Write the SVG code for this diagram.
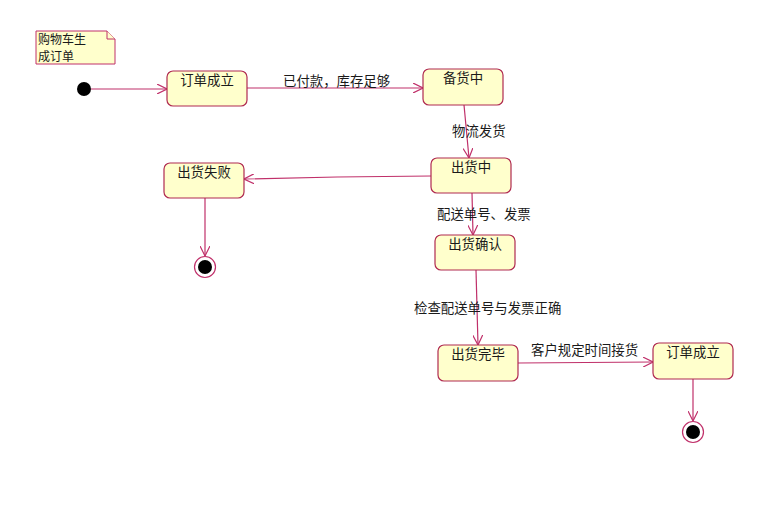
<svg xmlns="http://www.w3.org/2000/svg" width="761" height="509" viewBox="0 0 761 509">
<defs>
<style>
text{font-family:"Noto Sans CJK SC","Liberation Sans",sans-serif;font-size:13.4px;fill:#1a1a1a}
.st{fill:#ffffcc;stroke:#b02a50;stroke-width:1.2}
.st-t{text-anchor:middle}
.ln{fill:none;stroke:#c0306a;stroke-width:1.2}
.note{fill:#ffffcc;stroke:#c0306a;stroke-width:1}
.nt{font-size:12px}
</style>
<marker id="ah" viewBox="0 0 10 10" refX="10" refY="5" markerWidth="10" markerHeight="10" markerUnits="userSpaceOnUse" orient="auto">
<path d="M0,0 L10,5 L0,10" fill="none" stroke="#c0306a" stroke-width="1.2"/>
</marker>
</defs>
<rect width="761" height="509" fill="#ffffff"/>
<g id="note">
<path class="note" d="M36,31 H107 L115,39 V64 H36 Z"/>
<path class="note" d="M107,31 V39 H115" fill="none"/>
<text class="nt" x="38" y="43.5">购物车生</text>
<text class="nt" x="38" y="61">成订单</text>
</g>
<g id="connectors">
<line class="ln" x1="91" y1="89" x2="167" y2="89" marker-end="url(#ah)"/>
<line class="ln" x1="247" y1="88" x2="423" y2="88" marker-end="url(#ah)"/>
<text x="283" y="86">已付款，库存足够</text>
<line class="ln" x1="464" y1="105" x2="469" y2="158" marker-end="url(#ah)"/>
<text x="452" y="136">物流发货</text>
<polyline class="ln" points="431,176 337,177 244,179" marker-end="url(#ah)"/>
<line class="ln" x1="205" y1="198" x2="205" y2="256" marker-end="url(#ah)"/>
<line class="ln" x1="472" y1="193" x2="473" y2="235" marker-end="url(#ah)"/>
<text x="437" y="219">配送单号、发票</text>
<line class="ln" x1="476" y1="270" x2="478" y2="345" marker-end="url(#ah)"/>
<text x="414" y="313">检查配送单号与发票正确</text>
<line class="ln" x1="518" y1="363" x2="653" y2="362" marker-end="url(#ah)"/>
<text x="531" y="355">客户规定时间接货</text>
<line class="ln" x1="693" y1="379" x2="693" y2="421" marker-end="url(#ah)"/>
</g>
<g id="start"><circle cx="84" cy="89" r="7" fill="#000"/></g>
<g id="s1"><rect class="st" x="167" y="71" width="80" height="35" rx="6"/><text class="st-t" x="207" y="85">订单成立</text></g>
<g id="s2"><rect class="st" x="423" y="69" width="80" height="36" rx="6"/><text class="st-t" x="463" y="83">备货中</text></g>
<g id="s3"><rect class="st" x="431" y="158" width="80" height="35" rx="6"/><text class="st-t" x="471" y="172">出货中</text></g>
<g id="s4"><rect class="st" x="164" y="163" width="80" height="35" rx="6"/><text class="st-t" x="204" y="177">出货失败</text></g>
<g id="s5"><rect class="st" x="435" y="235" width="80" height="35" rx="6"/><text class="st-t" x="475" y="249">出货确认</text></g>
<g id="s6"><rect class="st" x="438" y="345" width="80" height="36" rx="6"/><text class="st-t" x="478" y="359">出货完毕</text></g>
<g id="s7"><rect class="st" x="653" y="343" width="80" height="36" rx="6"/><text class="st-t" x="693" y="357">订单成立</text></g>
<g id="end1"><circle cx="205" cy="267" r="10.5" fill="#fff" stroke="#c0306a" stroke-width="1.2"/><circle cx="205" cy="267" r="7" fill="#000"/></g>
<g id="end2"><circle cx="693" cy="432" r="10.5" fill="#fff" stroke="#c0306a" stroke-width="1.2"/><circle cx="693" cy="432" r="7" fill="#000"/></g>
</svg>
